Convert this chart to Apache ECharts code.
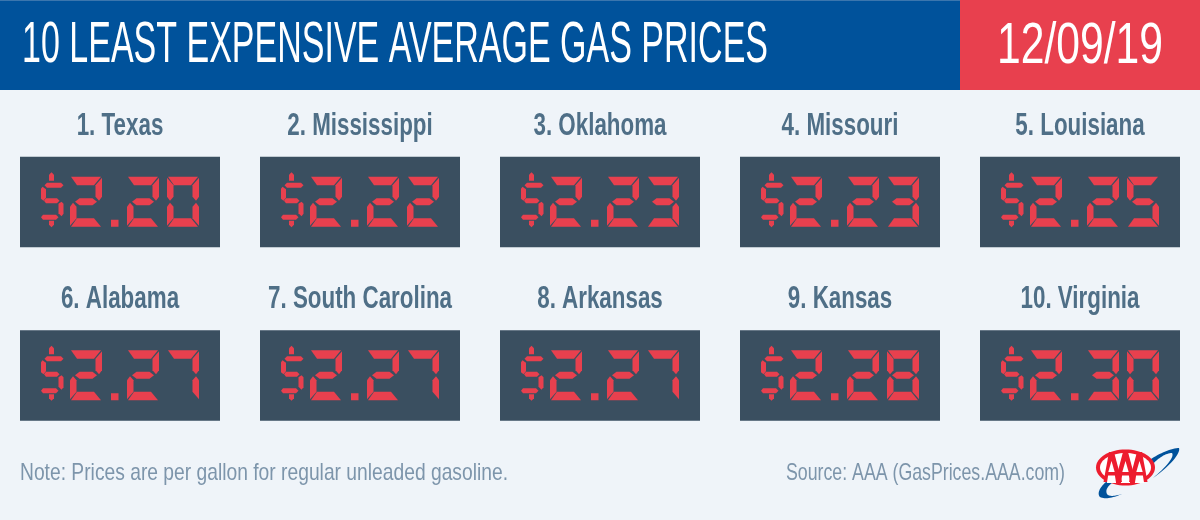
<!DOCTYPE html>
<html><head><meta charset="utf-8">
<style>html,body{margin:0;padding:0;background:#EFF4F9}#c{width:1200px;height:520px}</style>
<script src="https://cdn.jsdelivr.net/npm/echarts@6/dist/echarts.min.js"></script>
</head><body><div id="c"></div>
<script>
const titleText = '10 LEAST EXPENSIVE AVERAGE GAS PRICES';
const dateText = '12/09/19';
const noteText = 'Note: Prices are per gallon for regular unleaded gasoline.';
const sourceText = 'Source: AAA (GasPrices.AAA.com)';
const states = ['Texas','Mississippi','Oklahoma','Missouri','Louisiana','Alabama','South Carolina','Arkansas','Kansas','Virginia'];
const prices = [2.20,2.22,2.23,2.23,2.25,2.27,2.27,2.27,2.28,2.30];
const columns = ['c1','c2','c3','c4','c5'];
const rows = ['r1','r2'];

const RED='#E8404E', PANEL='#3A4F60', LABEL='#4F6F87', MUTED='#7D95AB', BLUE='#00529B', LOGO='#ED1C2E';
const FONT='"Liberation Sans",sans-serif';

const ctx=document.createElement('canvas').getContext('2d');
function fit(text,font,target){ctx.font=font;return target/ctx.measureText(text).width;}

const titleFont='400 56.5px '+FONT, dateFont='400 56.5px '+FONT, labelFont='700 31px '+FONT, smallFont='400 24px '+FONT;
const labelScale=fit('7. South Carolina',labelFont,184);

const SEG={
 a:[[1,0],[31,0],[24,8.5],[7,8.5]],
 b:[[32,1],[32,20],[29,24],[25.5,20],[25.5,8.5]],
 c:[[32,30],[32,49],[25.5,41.5],[25.5,30],[29,26]],
 d:[[1,50],[31,50],[24,41.5],[7,41.5]],
 e:[[0,30],[3,26],[6.5,30],[6.5,41.5],[0,49]],
 f:[[0,1],[6.5,8.5],[6.5,20],[3,24],[0,20]],
 g:[[5,25],[9.5,21.5],[22.5,21.5],[27,25],[22.5,28.5],[9.5,28.5]]
};
const DIGITS={0:'abcdef',1:'bc',2:'abged',3:'abgcd',4:'fgbc',5:'afgcd',6:'afgedc',7:'abc',8:'abcdefg',9:'abcdfg'};
const DOLLAR=[
 [[8,-2],[10.5,-4.5],[13,-2],[13,4],[8,4]],
 [[6,6],[20,6],[22.5,8.5],[20,11],[6,11],[3.5,8.5]],
 [[0,12],[1.5,10],[5,12.5],[5,21],[2.5,24],[0,22]],
 [[5,21.5],[16,21.5],[18.5,24],[16,26.5],[5,26.5],[3,24]],
 [[17.5,27],[20.5,25],[22.5,27],[22.5,37],[20.5,39.5],[17.5,36.5]],
 [[2,38],[15,38],[17.5,40.5],[15,43],[2,43],[0,40.5]],
 [[8,44],[13,44],[13,48],[10.5,50.5],[8,48]]
];
const DIGIT_X=[50,107,147], DOLLAR_X=21, DOT_X=91;

function poly(pts,ox,oy,s){return {type:'polygon',silent:true,shape:{points:pts.map(p=>[ox+p[0]*s,oy+p[1]*s])},style:{fill:RED}};}

function renderPanel(params,api){
  const c=api.coord([api.value(0),api.value(1)]);
  const size=api.size([1,1]);
  const s=size[0]/240;
  const w=200*s,h=90.5*s;
  const left=c[0]-w/2, top=c[1]-h/2;
  const idx=params.dataIndex;
  const price=prices[idx].toFixed(2).split('.');
  const digits=[price[0],price[1][0],price[1][1]];
  const dy=top+20*s;
  const children=[{type:'rect',silent:true,shape:{x:left,y:top,width:w,height:h},style:{fill:PANEL}}];
  DOLLAR.forEach(p=>children.push(poly(p,left+DOLLAR_X*s,dy,s)));
  digits.forEach((d,i)=>{DIGITS[d].split('').forEach(k=>children.push(poly(SEG[k],left+DIGIT_X[i]*s,dy,s)));});
  children.push({type:'rect',silent:true,shape:{x:left+DOT_X*s,y:dy+43*s,width:7.5*s,height:7*s},style:{fill:RED}});
  children.push({type:'text',silent:true,x:c[0],y:top-30.5*s,scaleX:labelScale,style:{text:(idx+1)+'. '+states[idx],fill:LABEL,font:labelFont,textAlign:'center',textVerticalAlign:'middle'}});
  return {type:'group',children};
}

// cubic-bezier outline helper for the logo swoosh shapes
function curve(p0,c1,c2,p1,out){for(let i=0;i<=16;i++){const t=i/16,u=1-t;out.push([u*u*u*p0[0]+3*u*u*t*c1[0]+3*u*t*t*c2[0]+t*t*t*p1[0],u*u*u*p0[1]+3*u*u*t*c1[1]+3*u*t*t*c2[1]+t*t*t*p1[1]]);}return out;}
const swooshA=[];
curve([1148,461],[1158,454],[1169,449],[1178,448],swooshA);
curve([1179,448],[1181,453],[1170,466],[1153,478],swooshA);
curve([1153,478],[1165,468],[1175,457],[1172,453],swooshA);
curve([1172,453],[1166,453],[1158,458],[1152,465],swooshA);
const swooshB=[];
curve([1106,482],[1099,488],[1097,494],[1100,497],swooshB);
curve([1100,497],[1105,500],[1115,497],[1122,494],swooshB);
curve([1122,494],[1115,496],[1109,497],[1107,494],swooshB);
curve([1107,494],[1105,490],[1108,486],[1112,483],swooshB);

function logoA(cx,lw,rw){
  const red=(pts)=>({type:'polygon',silent:true,shape:{points:pts},style:{fill:LOGO}});
  const white=(pts)=>({type:'polygon',silent:true,shape:{points:pts},style:{fill:'#fff'}});
  return [
    red([[cx-2.5,452],[cx+2.5,452],[cx+rw,482],[cx-lw,482]]),
    white([[cx,461],[cx+3.2,472],[cx-3.2,472]]),
    white([[cx-3.4,475.5],[cx+3.4,475.5],[cx+4.6,483],[cx-4.6,483]])
  ];
}

const chart=echarts.init(document.getElementById('c'),null,{renderer:'canvas'});
chart.setOption({
  animation:false,
  backgroundColor:'#EFF4F9',
  grid:{left:0,right:0,top:115.25,height:347},
  xAxis:{type:'category',data:columns,show:false},
  yAxis:{type:'category',data:rows,inverse:true,show:false},
  series:[{type:'custom',renderItem:renderPanel,clip:false,
    data:prices.map((p,i)=>[i%5,Math.floor(i/5),p])}],
  graphic:[
    {type:'rect',shape:{x:0,y:0,width:960,height:90},style:{fill:BLUE},silent:true},
    {type:'rect',shape:{x:0,y:0,width:960,height:1},style:{fill:'#3B76AE'},silent:true},
    {type:'rect',shape:{x:960,y:0,width:240,height:90},style:{fill:RED},silent:true},
    {type:'text',x:22,y:46,scaleX:fit(titleText,titleFont,746),silent:true,style:{text:titleText,fill:'#fff',font:titleFont,textAlign:'left',textVerticalAlign:'middle'}},
    {type:'text',x:1080,y:47,scaleX:fit(dateText,dateFont,166),silent:true,style:{text:dateText,fill:'#fff',font:dateFont,textAlign:'center',textVerticalAlign:'middle'}},
    {type:'text',x:20,y:473,scaleX:fit(noteText,smallFont,488),silent:true,style:{text:noteText,fill:MUTED,font:smallFont,textAlign:'left',textVerticalAlign:'middle'}},
    {type:'text',x:1065,y:473,scaleX:fit(sourceText,smallFont,279),silent:true,style:{text:sourceText,fill:MUTED,font:smallFont,textAlign:'right',textVerticalAlign:'middle'}},
    {type:'polygon',silent:true,shape:{points:swooshA},style:{fill:BLUE}},
    {type:'polygon',silent:true,shape:{points:swooshB},style:{fill:BLUE}},
    {type:'ellipse',silent:true,shape:{cx:1125.5,cy:467.5,rx:29.5,ry:18},style:{fill:LOGO}},
    {type:'ellipse',silent:true,shape:{cx:1125.5,cy:467.5,rx:25.5,ry:14.5},style:{fill:'#fff'}},
    ...logoA(1125.5,10.5,10.5),
    ...logoA(1111.5,8,10.5),
    ...logoA(1139.5,10.5,8)
  ]
});
</script></body></html>
